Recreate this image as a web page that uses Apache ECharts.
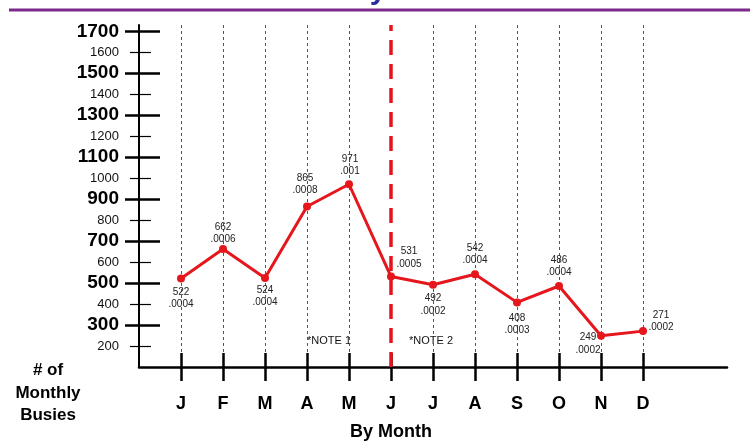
<!DOCTYPE html>
<html>
<head>
<meta charset="utf-8">
<script src="https://cdn.jsdelivr.net/npm/echarts@6/dist/echarts.min.js"></script>
<style>
  html, body { margin: 0; padding: 0; background: #fff; }
  #chart { width: 750px; height: 441px; }
</style>
</head>
<body>
<div id="chart"></div>
<script>
// Monthly busy counts and busy rates
const months = ['J', 'F', 'M', 'A', 'M', 'J', 'J', 'A', 'S', 'O', 'N', 'D'];
const busies = [522, 662, 524, 865, 971, 531, 492, 542, 408, 486, 249, 271];
const rates = ['.0004', '.0006', '.0004', '.0008', '.001', '.0005', '.0002', '.0004', '.0003', '.0004', '.0002', '.0002'];
const majorTicks = [300, 500, 700, 900, 1100, 1300, 1500, 1700];
const minorTicks = [200, 400, 600, 800, 1000, 1200, 1400, 1600];
const notes = ['*NOTE 1', '*NOTE 2'];

// Label placement around each point: [dx, dy] from the marker centre
const labelOffsets = [[0, 20], [0, -16], [0, 18], [-2, -22], [1, -19], [18, -19],
                      [0, 20], [0, -20], [0, 22], [0, -20], [-13, 8], [18, -10]];

const FONT = '"Liberation Sans", Arial, sans-serif';
// Category slots: an empty slot before January and two after December
const categories = [''].concat(months, ['', '']);
const splitIndex = 6; // June: start of the second period

const chart = echarts.init(document.getElementById('chart'), null, { renderer: 'canvas' });

const yBase = {
  type: 'value', min: 100, max: 1730, interval: 100, position: 'left',
  splitLine: { show: false }
};
const tickAxis = (values, inside, length, width) => Object.assign({}, yBase, {
  axisLine: { show: false },
  axisLabel: { show: false },
  axisTick: { show: true, inside: inside, length: length, customValues: values,
              lineStyle: { color: '#000', width: width } }
});
const xBase = {
  type: 'category', data: categories, boundaryGap: false, position: 'bottom',
  axisLabel: { show: false }, splitLine: { show: false }
};

chart.setOption({
  animation: false,
  textStyle: { fontFamily: FONT },
  grid: { left: 139, right: 23, top: 25, bottom: 74, containLabel: false },
  xAxis: [
    Object.assign({}, xBase, {
      axisLine: { show: true, onZero: false, lineStyle: { color: '#000', width: 2.5 } },
      axisTick: { show: true, length: 14, interval: (i, v) => v !== '',
                  lineStyle: { color: '#000', width: 2.5 } },
      axisLabel: { show: true, interval: (i, v) => v !== '', margin: 28,
                   fontSize: 18, fontWeight: 'bold', color: '#000', fontFamily: FONT },
      splitLine: { show: true, interval: (i, v) => v !== '' && i !== splitIndex,
                   lineStyle: { color: '#555', width: 1, type: [3, 3] } }
    }),
    Object.assign({}, xBase, {
      axisLine: { show: false, onZero: false },
      axisTick: { show: true, inside: true, length: 14, interval: (i, v) => v !== '',
                  lineStyle: { color: '#000', width: 2.5 } }
    })
  ],
  yAxis: [
    Object.assign({}, yBase, {
      axisLine: { show: true, lineStyle: { color: '#000', width: 2 } },
      axisTick: { show: false },
      axisLabel: {
        customValues: minorTicks.concat(majorTicks),
        margin: 20, color: '#000',
        formatter: v => (majorTicks.indexOf(v) >= 0 ? '{b|' + v + '}' : '{s|' + v + '}'),
        rich: {
          b: { fontSize: 19, fontWeight: 'bold', color: '#000', fontFamily: FONT },
          s: { fontSize: 13, color: '#111', fontFamily: FONT }
        }
      }
    }),
    tickAxis(majorTicks, false, 14, 2.5),
    tickAxis(majorTicks, true, 21, 2.5),
    tickAxis(minorTicks, false, 9, 1.2),
    tickAxis(minorTicks, true, 12, 1.2)
  ],
  series: [{
    type: 'line',
    xAxisIndex: 0,
    yAxisIndex: 0,
    data: busies.map((v, i) => ({
      value: [i + 1, v],
      label: { offset: labelOffsets[i], formatter: v + '\n' + rates[i] }
    })),
    symbol: 'circle',
    symbolSize: 8,
    lineStyle: { color: '#e5161c', width: 3 },
    itemStyle: { color: '#e5161c' },
    label: {
      show: true, position: 'inside', fontSize: 10, lineHeight: 12.5,
      color: '#222', fontFamily: FONT
    },
    markLine: {
      silent: true,
      symbol: 'none',
      label: { show: false },
      lineStyle: { color: '#e3141b', width: 3.5, type: [15, 9] },
      data: [{ xAxis: splitIndex }]
    },
    z: 3
  }],
  graphic: [
    { type: 'line', shape: { x1: 9, y1: 10, x2: 750, y2: 10 },
      style: { stroke: '#7b2a8c', lineWidth: 3 } },
    { type: 'text', x: 378, y: -24,
      style: { text: 'y', font: 'bold 30px ' + FONT, fill: '#2b2f9e', align: 'center' } },
    { type: 'text', x: 329, y: 341,
      style: { text: notes[0], font: '11px ' + FONT, fill: '#111', align: 'center', verticalAlign: 'middle' } },
    { type: 'text', x: 431, y: 341,
      style: { text: notes[1], font: '11px ' + FONT, fill: '#111', align: 'center', verticalAlign: 'middle' } },
    { type: 'text', x: 48, y: 393,
      style: { text: '# of\nMonthly\nBusies', font: 'bold 17px ' + FONT, lineHeight: 22.5,
               fill: '#000', align: 'center', verticalAlign: 'middle' } },
    { type: 'text', x: 391, y: 432,
      style: { text: 'By Month', font: 'bold 18px ' + FONT, fill: '#000',
               align: 'center', verticalAlign: 'middle' } }
  ]
});
</script>
</body>
</html>
